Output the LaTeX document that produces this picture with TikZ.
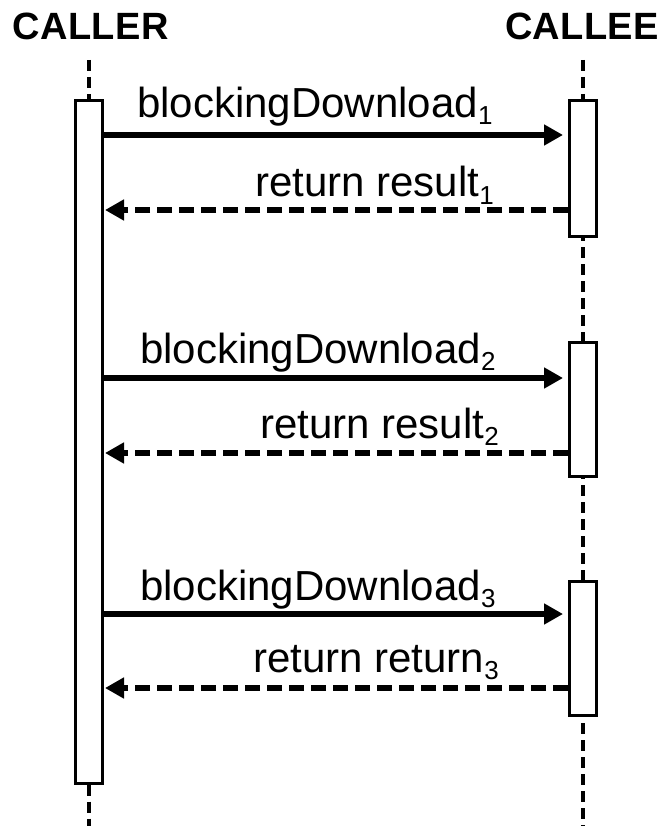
\documentclass[tikz,border=0pt]{standalone}
\usepackage{fontspec}
\setmainfont{Liberation Sans}
\newfontfamily\titlefont[LetterSpace=1]{Liberation Sans Bold}
\usetikzlibrary{arrows.meta}
\newcommand{\subidx}[1]{\raisebox{-7pt}{\fontsize{26}{26}\selectfont #1}}
\tikzset{
  bar/.style={draw, fill=white, line width=3pt, minimum width=27pt, inner sep=0pt},
  life/.style={line width=4.5pt, dash pattern=on 11pt off 6pt},
  call/.style={line width=6pt, -{Triangle[length=19pt,width=20pt]}},
  ret/.style={line width=6pt, dash pattern=on 15pt off 7pt, -{Triangle[length=19pt,width=20pt]}},
  lbl/.style={anchor=base west, inner sep=0pt, font=\fontsize{42}{48}\selectfont},
  ttl/.style={anchor=base, inner sep=0pt, font=\titlefont\fontsize{38}{42}\selectfont}
}
\begin{document}
\begin{tikzpicture}[x=1pt,y=-1pt]
\useasboundingbox (0,0) rectangle (660,826);
% titles
\node[ttl] (tcaller) at (90.5,40) {CALLER};
\node[ttl] (tcallee) at (582,40) {CALLEE};
% lifeline anchor points
\coordinate (lt1) at (89,60);
\coordinate (lb1) at (89,826);
\coordinate (lt2) at (583,60);
\coordinate (lb2) at (583,826);
% callee lifeline (behind bars)
\draw[life] (lt2) -- (lb2);
% caller bar and lifeline
\node[bar, minimum height=682pt] (caller) at (89,442) {};
\draw[life] (lt1) -- (caller.north);
\draw[life] (caller.south) -- (lb1);
% callee activation bars
\node[bar, minimum height=135pt] (b1) at (583,168.5) {};
\node[bar, minimum height=134pt] (b2) at (583,409) {};
\node[bar, minimum height=134pt] (b3) at (583,648) {};
% message levels
\coordinate (m1) at (0,135);
\coordinate (r1) at (0,210);
\coordinate (m2) at (0,378);
\coordinate (r2) at (0,453);
\coordinate (m3) at (0,614);
\coordinate (r3) at (0,688);
% messages
\draw[call] (caller.east |- m1) -- ([xshift=-5pt]b1.west |- m1);
\draw[ret] (b1.west |- r1) -- ([xshift=1pt]caller.east |- r1);
\draw[call] (caller.east |- m2) -- ([xshift=-5pt]b2.west |- m2);
\draw[ret] (b2.west |- r2) -- ([xshift=1pt]caller.east |- r2);
\draw[call] (caller.east |- m3) -- ([xshift=-5pt]b3.west |- m3);
\draw[ret] (b3.west |- r3) -- ([xshift=1pt]caller.east |- r3);
% labels
\node[lbl] (l1) at (137,118) {blockingDownload\subidx{1}};
\node[lbl] (l2) at (255,197) {return result\subidx{1}};
\node[lbl] (l3) at (140,363) {blockingDownload\subidx{2}};
\node[lbl] (l4) at (260,438) {return result\subidx{2}};
\node[lbl] (l5) at (140,600) {blockingDownload\subidx{3}};
\node[lbl] (l6) at (253,672) {return return\subidx{3}};
\end{tikzpicture}
\end{document}
